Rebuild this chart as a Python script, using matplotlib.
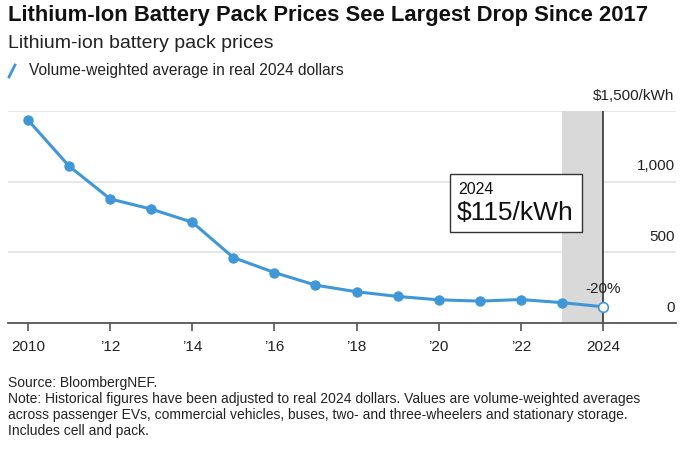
import matplotlib.pyplot as plt
from matplotlib.lines import Line2D
from matplotlib.patches import Rectangle

plt.rcParams['font.family'] = ['Liberation Sans', 'DejaVu Sans']

years = [2010, 2011, 2012, 2013, 2014, 2015, 2016, 2017, 2018, 2019, 2020, 2021, 2022, 2023, 2024]
prices = [1436, 1110, 878, 806, 713, 463, 357, 268, 221, 188, 164, 155, 166, 144, 115]
tick_years = [2010, 2012, 2014, 2016, 2018, 2020, 2022, 2024]
tick_labels = ['2010', '\u201912', '\u201914', '\u201916', '\u201918', '\u201920', '\u201922', '2024']
y_ticks = [0, 500, 1000, 1500]
y_labels = ['0', '500', '1,000', '$1,500/kWh']
note_lines = [
    'Source: BloombergNEF.',
    'Note: Historical figures have been adjusted to real 2024 dollars. Values are volume-weighted averages',
    'across passenger EVs, commercial vehicles, buses, two- and three-wheelers and stationary storage.',
    'Includes cell and pack.',
]

BLUE = '#3f97d8'
W, H = 700, 450

fig = plt.figure(figsize=(7, 4.5), dpi=100)
ax = fig.add_axes([8 / W, (H - 323) / H, (676 - 8) / W, (323 - 111) / H])

ax.set_xlim(2010 - 20 / 41.07, 2010 + (676 - 28) / 41.07)
ax.set_ylim(0, 1500)

# shaded latest-year band and marker line
ax.add_patch(Rectangle((2023, 0), 1, 1500, color='#d9d9d9', lw=0, zorder=1))
ax.plot([2024, 2024], [0, 1500], color='#333333', lw=1.2, zorder=2)

for v in y_ticks[1:]:
    ax.axhline(v, color='#e3e3e3', lw=1.2, zorder=0)

ax.plot(years[:-1], prices[:-1], color=BLUE, lw=2.2, marker='o', ms=6.5, zorder=3)
ax.plot(years[-2:], prices[-2:], color=BLUE, lw=2.2, zorder=3)
ax.plot(years[-1], prices[-1], marker='o', ms=7, mfc='white', mec=BLUE, mew=1.2, zorder=4)

for v, lab in zip(y_ticks, y_labels):
    ax.annotate(lab, xy=(1, v), xycoords=('axes fraction', 'data'), xytext=(-1, 6),
                textcoords='offset points', ha='right', va='bottom', fontsize=11, color='#222222')

ax.annotate('-20%', xy=(2024, prices[-1]), xytext=(0, 8), textcoords='offset points',
            ha='center', va='bottom', fontsize=11, color='#222222', zorder=5)

# callout box
fig.patches.append(Rectangle((450 / W, (H - 232) / H), 132 / W, 58 / H, transform=fig.transFigure,
                             facecolor='white', edgecolor='#333333', lw=1, zorder=5))
fig.text(458 / W, (H - 190) / H, '2024', fontsize=11.5, color='#111111', va='center', zorder=6)
fig.text(457 / W, (H - 213) / H, '$115/kWh', fontsize=19, color='#111111', va='center', zorder=6)

for s in ['top', 'left', 'right']:
    ax.spines[s].set_visible(False)
ax.spines['bottom'].set_color('#555555')
ax.spines['bottom'].set_linewidth(1.3)
ax.set_yticks([])
ax.set_xticks(tick_years)
ax.set_xticklabels(tick_labels, fontsize=11, color='#222222')
ax.tick_params(axis='x', length=6, width=1.2, color='#555555', pad=6)

fig.text(8 / W, 1 - 16 / H, 'Lithium-Ion Battery Pack Prices See Largest Drop Since 2017',
         fontsize=15.8, fontweight='bold', va='center', color='#111111')
fig.text(8 / W, 1 - 44 / H, 'Lithium-ion battery pack prices', fontsize=14, va='center', color='#222222')
fig.add_artist(Line2D([9 / W, 15 / W], [1 - 77 / H, 1 - 65 / H], color=BLUE, lw=2, transform=fig.transFigure))
fig.text(29 / W, 1 - 71 / H, 'Volume-weighted average in real 2024 dollars', fontsize=11.2, va='center', color='#222222')

for i, line in enumerate(note_lines):
    fig.text(8 / W, 1 - (383 + 16 * i) / H, line, fontsize=10, va='center', color='#222222')

fig.savefig('out.png', dpi=100)
